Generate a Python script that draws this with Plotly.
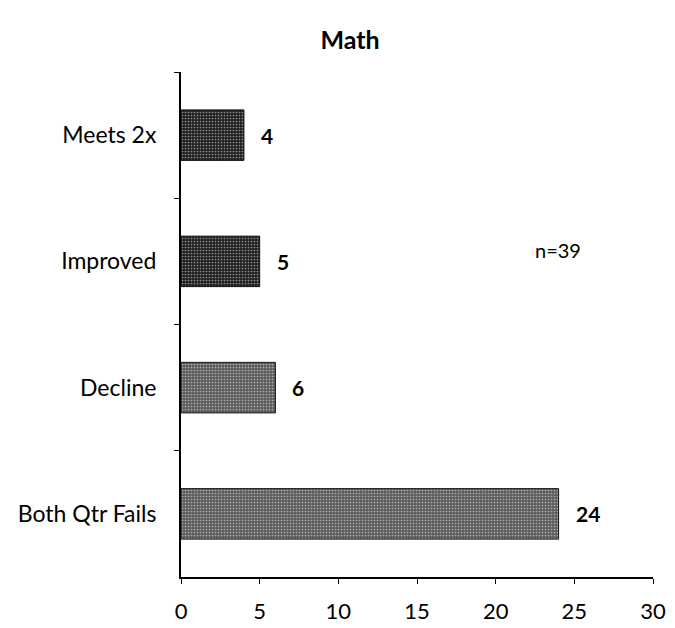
import plotly.graph_objects as go

# Math outcome counts, listed top to bottom
categories = ["Meets 2x", "Improved", "Decline", "Both Qtr Fails"]
counts = [4, 5, 6, 24]
bar_colors = ["#222222", "#222222", "#5e5e5e", "#5e5e5e"]
dot_colors = ["#7a7a7a", "#7a7a7a", "#9c9c9c", "#9c9c9c"]
x_ticks = [0, 5, 10, 15, 20, 25, 30]
sample_note = "n=39"

font_family = "Lato, 'Open Sans', sans-serif"

fig = go.Figure()
fig.add_trace(go.Bar(
    x=counts,
    y=categories,
    orientation="h",
    width=0.4,
    marker=dict(
        color=bar_colors,
        line=dict(color="#111111", width=1),
        pattern=dict(shape=".", bgcolor=bar_colors, fgcolor=dot_colors,
                     size=3, solidity=0.25, fillmode="overlay"),
    ),
    hoverinfo="skip",
))

# Value labels to the right of each bar
for cat, val in zip(categories, counts):
    fig.add_annotation(
        x=val, y=cat, text=f"<b>{val}</b>", showarrow=False,
        xanchor="left", xshift=15,
        font=dict(family=font_family, size=21, color="#000000"),
    )

# Sample size note inside the plot area
fig.add_annotation(
    x=(558 - 181) / (653 - 181) * 30, xref="x",
    y=(577 - 236) / (577 - 72), yref="paper",
    text=sample_note, showarrow=False,
    font=dict(family=font_family, size=20, color="#000000"),
)

fig.update_layout(
    width=675, height=628,
    margin=dict(l=181, r=22, t=72, b=51, autoexpand=False),
    paper_bgcolor="white", plot_bgcolor="white",
    showlegend=False,
    title=dict(text="<b>Math</b>", x=350 / 675, xanchor="center",
               y=1 - 40 / 628, yanchor="middle",
               font=dict(family=font_family, size=25, color="#000000")),
    xaxis=dict(
        range=[0, 30], tickvals=x_ticks, showgrid=False, zeroline=False,
        showline=True, linecolor="#000000", linewidth=2,
        ticks="outside", ticklen=5, tickcolor="#000000", tickwidth=1,
        ticklabelstandoff=9, automargin=False,
        tickfont=dict(family=font_family, size=22, color="#000000"),
        fixedrange=True,
    ),
    yaxis=dict(
        categoryorder="array", categoryarray=categories, autorange="reversed",
        showgrid=False, zeroline=False,
        showline=True, linecolor="#000000", linewidth=2,
        ticks="outside", tickson="boundaries", ticklen=5,
        tickcolor="#000000", tickwidth=1, ticklabelstandoff=18,
        automargin=False,
        tickfont=dict(family=font_family, size=23, color="#000000"),
        fixedrange=True,
    ),
)

fig.write_html("out.html")
